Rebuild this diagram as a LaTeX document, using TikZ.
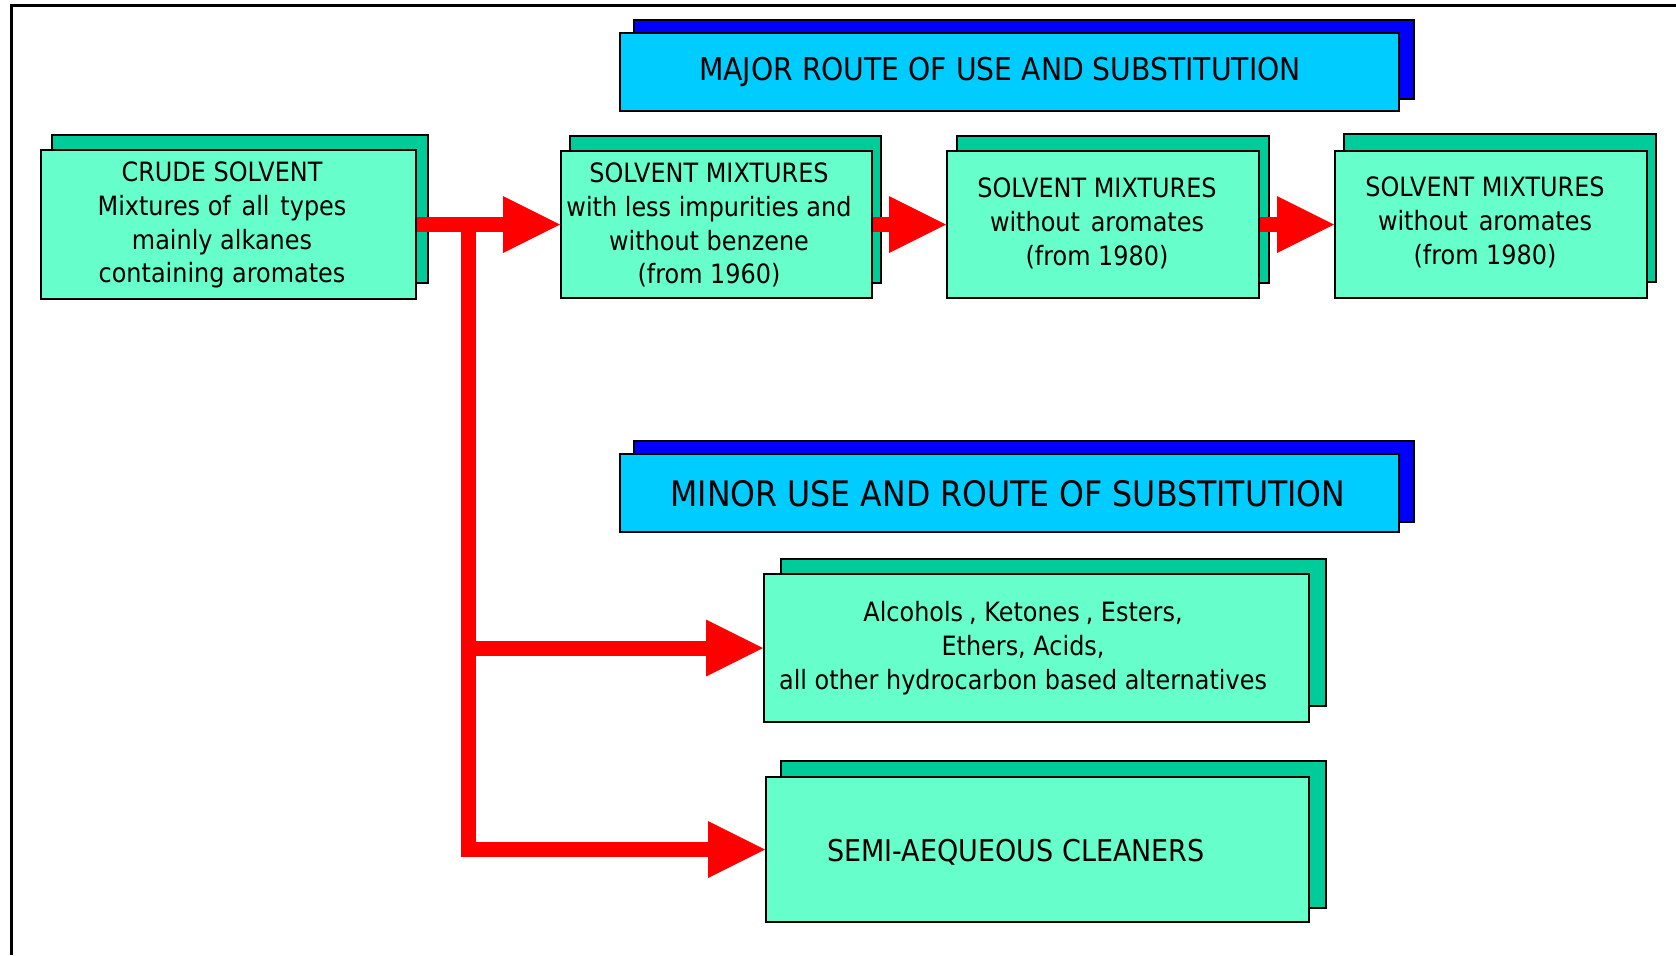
\documentclass[tikz,border=0pt]{standalone}
\usepackage{fontspec}
\setmainfont[FakeStretch=0.9]{DejaVu Sans}
\usetikzlibrary{arrows.meta}
\definecolor{frontc}{HTML}{66FFCC}
\definecolor{backc}{HTML}{00CC99}
\definecolor{bfrontc}{HTML}{00CCFF}
\definecolor{bbackc}{HTML}{0000FF}
\definecolor{arrc}{HTML}{FF0000}
\begin{document}
\begin{tikzpicture}[x=0.5pt,y=-0.5pt,
  backbox/.style={draw=black, fill=backc, line width=1pt},
  frontbox/.style={draw=black, fill=frontc, line width=1pt, rectangle, inner sep=0pt},
  bannerback/.style={draw=black, fill=bbackc, line width=1pt},
  bannerfront/.style={draw=black, fill=bfrontc, line width=1pt, rectangle, inner sep=0pt},
  txt/.style={align=center, font=\fontsize{13.3pt}{16.95pt}\selectfont, inner sep=0pt},
  shaft/.style={draw=arrc, line width=7.5pt, -{Triangle[length=28.5pt,width=28.5pt,line width=0pt]}},
  frameline/.style={draw=black, line width=1.5pt}
  ]
\useasboundingbox (0,0) rectangle (1676,955);
\fill[white] (0,0) rectangle (1676,955);
% outer frame
\draw[frameline] (1676,5.7) -- (11.3,5.7) -- (11.3,955);

% banners
\draw[bannerback] (634,20) rectangle (1414,99);
\node[bannerfront, minimum width=389.5pt, minimum height=39pt] (major) at (1009.5,72) {};
\node[font=\fontsize{15.7pt}{18pt}\selectfont, inner sep=0pt] (majorT) at (1000,72) {MAJOR ROUTE OF USE AND SUBSTITUTION};

\draw[bannerback] (634,441) rectangle (1414,522);
\node[bannerfront, minimum width=389.5pt, minimum height=39pt] (minor) at (1009.5,493) {};
\node[font=\fontsize{17.55pt}{20pt}\selectfont, inner sep=0pt] (minorT) at (1008,494) {MINOR USE AND ROUTE OF SUBSTITUTION};

% crude solvent
\draw[backbox] (52,135) rectangle (428,283);
\node[frontbox, minimum width=187.5pt, minimum height=74.5pt] (crude) at (228.5,224.5) {};
\node[txt] (crudeT) at (222,225) {CRUDE SOLVENT\\Mixtures of\hspace{0.12em} all\hspace{0.12em} types\\mainly alkanes\\containing aromates};

% solvent mixtures 1
\draw[backbox] (570,136) rectangle (881,283);
\node[frontbox, minimum width=155.5pt, minimum height=73.5pt] (sm1) at (716.5,224.5) {};
\node[txt] (sm1T) at (709,225) {SOLVENT MIXTURES\\with less impurities and\\without benzene\\(from 1960)};

% solvent mixtures 2
\draw[backbox] (957,136) rectangle (1269,283);
\node[frontbox, minimum width=156pt, minimum height=73.5pt] (sm2) at (1103,224.5) {};
\node[txt] (sm2T) at (1097,223.5) {SOLVENT MIXTURES\\without\hspace{0.12em} aromates\\(from 1980)};

% solvent mixtures 3
\draw[backbox] (1344,134) rectangle (1656,282);
\node[frontbox, minimum width=156pt, minimum height=73.5pt] (sm3) at (1491,224) {};
\node[txt] (sm3T) at (1485,222.5) {SOLVENT MIXTURES\\without\hspace{0.12em} aromates\\(from 1980)};

% alcohols
\draw[backbox] (781,559) rectangle (1326,706);
\node[frontbox, minimum width=272.5pt, minimum height=74pt] (alc) at (1036.5,648) {};
\node[txt] (alcT) at (1023,648) {Alcohols\hspace{0.22em}, Ketones\hspace{0.22em}, Esters,\\Ethers, Acids,\\all other hydrocarbon based alternatives};

% semi-aqueous
\draw[backbox] (781,761) rectangle (1326,908);
\node[frontbox, minimum width=271.5pt, minimum height=72.5pt] (semi) at (1037.5,849.5) {};
\node[font=\fontsize{15pt}{17pt}\selectfont, inner sep=0pt] (semiT) at (1016,852) {SEMI-AEQUEOUS CLEANERS};

% connectors
\coordinate (j) at (468,224.5);
\draw[shaft] (j) |- (semi.west);
\draw[shaft] (j |- alc.west) -- (alc.west);
\draw[shaft] (crude.east) -- (crude.east -| sm1.west);
\draw[shaft] (sm1.east) -- (sm2.west);
\draw[shaft] (sm2.east) -- (sm2.east -| sm3.west);
\end{tikzpicture}
\end{document}
